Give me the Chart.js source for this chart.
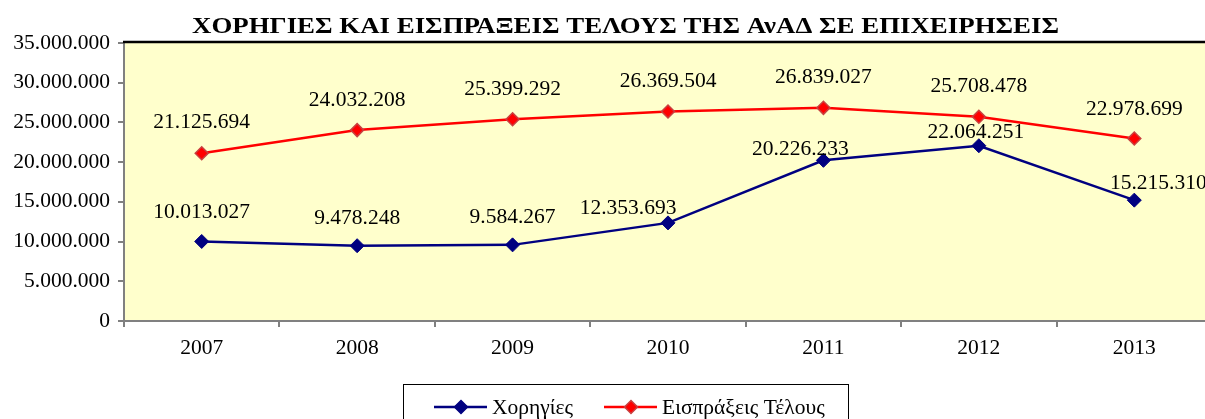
<!DOCTYPE html>
<html lang="el">
<head>
 <meta charset="UTF-8">
 <title>Χορηγίες και Εισπράξεις Τέλους</title>
 <script src="https://cdn.jsdelivr.net/npm/chart.js"></script>
 <style>
 html, body {
 margin: 0;
 padding: 0;
 background: white;
 overflow: hidden;
 }
 .wrap {
 width: 1220px;
 height: 419px;
 }
 </style>
</head>
<body>
 <div class="wrap">
 <canvas id="chart" width="1220" height="419"></canvas>
 </div>
 <script>
 // data
 const years = ["2007", "2008", "2009", "2010", "2011", "2012", "2013"];
 const grants = [10013027, 9478248, 9584267, 12353693, 20226233, 22064251, 15215310];
 const feeIncome = [21125694, 24032208, 25399292, 26369504, 26839027, 25708478, 22978699];
 const yTicks = [0, 5000000, 10000000, 15000000, 20000000, 25000000, 30000000, 35000000];
 const seriesNames = ["Χορηγίες", "Εισπράξεις Τέλους"];
 const chartTitle = "ΧΟΡΗΓΙΕΣ ΚΑΙ ΕΙΣΠΡΑΞΕΙΣ ΤΕΛΟΥΣ ΤΗΣ ΑνΑΔ ΣΕ ΕΠΙΧΕΙΡΗΣΕΙΣ";

 // label placement (px relative to the point)
 const grantLabelDx = [0, 0, 0, -40, -23, -3, 24];
 const grantLabelDy = [29, 27, 28, 15, 11, 13, 17];
 const feeLabelDx = [0, 0, 0, 0, 0, 0, 0];
 const feeLabelDy = [31, 30, 30, 30, 30, 30, 29];

 const FONT = "'Liberation Serif', 'Times New Roman', serif";
 const NAVY = "#000080";
 const RED = "#FF0000";

 function fmt(v) {
   return String(v).replace(/\B(?=(\d{3})+(?!\d))/g, ".");
 }

 // yellow plot area + black top border
 const plotBg = {
   id: "plotBg",
   beforeDraw(chart) {
     const a = chart.chartArea;
     const ctx = chart.ctx;
     ctx.save();
     ctx.fillStyle = "#FFFFCC";
     ctx.fillRect(a.left, a.top, a.right - a.left, a.bottom - a.top);
     ctx.restore();
   },
   afterDraw(chart) {
     const a = chart.chartArea;
     const ctx = chart.ctx;
     ctx.save();
     ctx.strokeStyle = "#000";
     ctx.lineWidth = 2.5;
     ctx.beginPath();
     ctx.moveTo(a.left - 1, a.top - 1);
     ctx.lineTo(a.right + 2, a.top - 1);
     ctx.stroke();
     ctx.restore();
   }
 };

 // value labels over the points
 const valueLabels = {
   id: "valueLabels",
   afterDatasetsDraw(chart) {
     const ctx = chart.ctx;
     const offs = [[grantLabelDx, grantLabelDy], [feeLabelDx, feeLabelDy]];
     ctx.save();
     ctx.font = "21.5px " + FONT;
     ctx.fillStyle = "#000";
     ctx.textAlign = "center";
     ctx.textBaseline = "middle";
     chart.data.datasets.forEach((ds, d) => {
       chart.getDatasetMeta(d).data.forEach((pt, i) => {
         ctx.fillText(fmt(ds.data[i]), pt.x + offs[d][0][i], pt.y - offs[d][1][i]);
       });
     });
     ctx.restore();
   }
 };

 // title and boxed legend
 const titleAndLegend = {
   id: "titleAndLegend",
   afterDraw(chart) {
     const ctx = chart.ctx;
     ctx.save();
     ctx.font = "bold 24px " + FONT;
     ctx.fillStyle = "#000";
     ctx.textBaseline = "alphabetic";
     ctx.textAlign = "left";
     const w = ctx.measureText(chartTitle).width;
     ctx.translate(192, 33);
     ctx.scale(867 / w, 1);
     ctx.fillText(chartTitle, 0, 0);
     ctx.restore();

     ctx.save();
     ctx.strokeStyle = "#000";
     ctx.lineWidth = 1;
     ctx.strokeRect(403.5, 384.5, 445, 50);
     const items = [
       { x: 434, color: NAVY, border: NAVY, name: seriesNames[0] },
       { x: 604, color: RED, border: "#C84040", name: seriesNames[1] }
     ];
     const y = 407;
     ctx.font = "21.5px " + FONT;
     ctx.textBaseline = "middle";
     ctx.textAlign = "left";
     items.forEach(it => {
       ctx.strokeStyle = it.color;
       ctx.lineWidth = 2.5;
       ctx.beginPath();
       ctx.moveTo(it.x, y);
       ctx.lineTo(it.x + 53, y);
       ctx.stroke();
       const cx = it.x + 27;
       ctx.beginPath();
       ctx.moveTo(cx, y - 6.5);
       ctx.lineTo(cx + 6.5, y);
       ctx.lineTo(cx, y + 6.5);
       ctx.lineTo(cx - 6.5, y);
       ctx.closePath();
       ctx.fillStyle = it.color;
       ctx.fill();
       ctx.strokeStyle = it.border;
       ctx.lineWidth = 1.5;
       ctx.stroke();
       ctx.fillStyle = "#000";
       ctx.fillText(it.name, it.x + 58, y + 1);
     });
     ctx.restore();
   }
 };

 new Chart(document.getElementById("chart"), {
   type: "line",
   data: {
     labels: years,
     datasets: [
       {
         label: seriesNames[0],
         data: grants,
         borderColor: NAVY,
         backgroundColor: NAVY,
         borderWidth: 2.5,
         pointStyle: "rectRot",
         pointRadius: 7,
         pointBackgroundColor: NAVY,
         pointBorderColor: NAVY,
         pointBorderWidth: 1,
         tension: 0
       },
       {
         label: seriesNames[1],
         data: feeIncome,
         borderColor: RED,
         backgroundColor: RED,
         borderWidth: 2.5,
         pointStyle: "rectRot",
         pointRadius: 6.5,
         pointBackgroundColor: RED,
         pointBorderColor: "#C84040",
         pointBorderWidth: 1.5,
         tension: 0
       }
     ]
   },
   options: {
     responsive: false,
     animation: false,
     layout: { padding: { top: 43, bottom: 38, left: 0, right: 1 } },
     plugins: {
       legend: { display: false },
       title: { display: false },
       tooltip: { enabled: false }
     },
     scales: {
       x: {
         type: "category",
         offset: true,
         grid: { offset: true, drawOnChartArea: false, color: "#808080", tickLength: 6, lineWidth: 2 },
         border: { color: "#808080", width: 2 },
         ticks: { color: "#000", font: { family: FONT, size: 21.5 }, padding: 8, maxRotation: 0 },
         afterFit: s => { s.height = 60; }
       },
       y: {
         min: 0,
         max: 35000000,
         afterBuildTicks: s => { s.ticks = yTicks.map(v => ({ value: v })); },
         grid: { drawOnChartArea: false, color: "#808080", tickLength: 6, lineWidth: 2 },
         border: { color: "#808080", width: 2 },
         ticks: { color: "#000", font: { family: FONT, size: 21.5 }, padding: 8, callback: v => fmt(v) },
         afterFit: s => { s.width = 124; }
       }
     }
   },
   plugins: [plotBg, valueLabels, titleAndLegend]
 });
 </script>
</body>
</html>
